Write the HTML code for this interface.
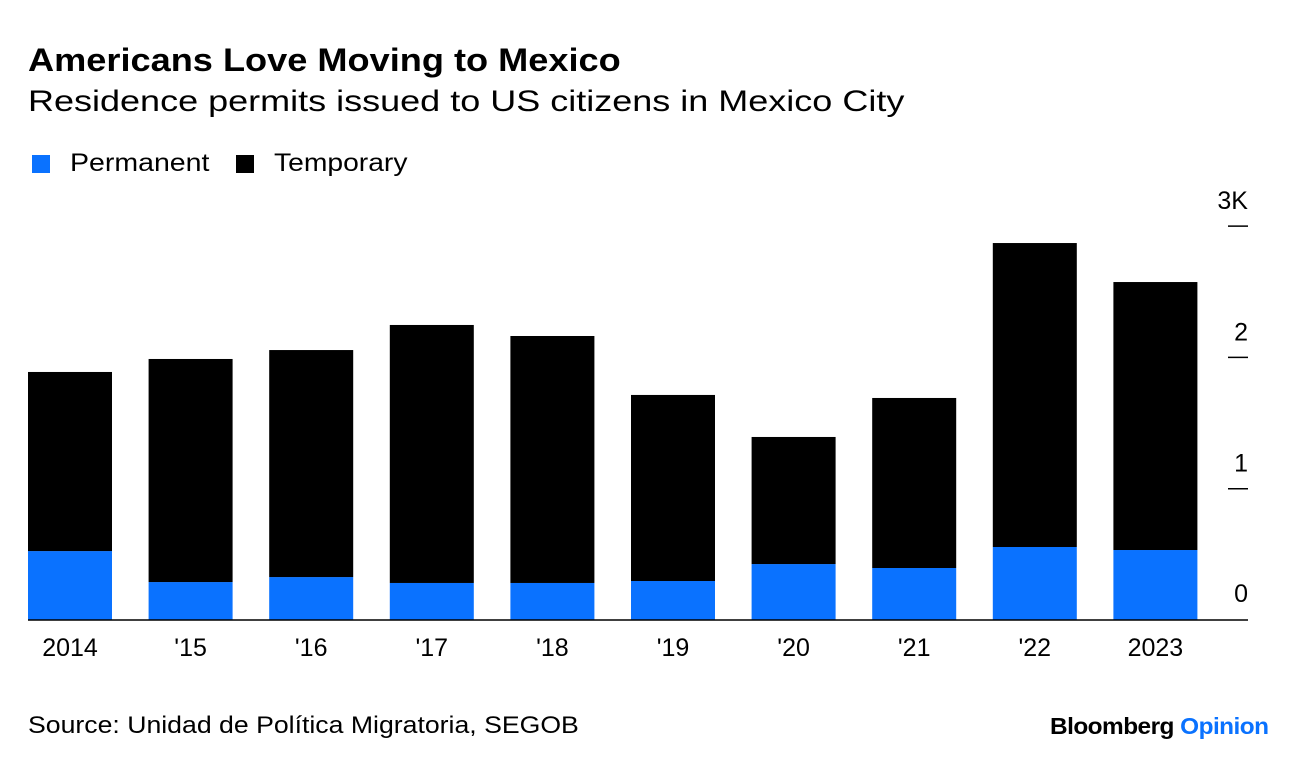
<!DOCTYPE html>
<html><head><meta charset="utf-8"><style>
body{margin:0;width:1296px;height:770px;background:#fff;font-family:"Liberation Sans",sans-serif;overflow:hidden;position:relative}
.t{position:absolute;white-space:nowrap;color:#000;transform-origin:0 0}
</style></head><body>
<div class="t" style="left:28px;top:42px;font-size:32px;font-weight:bold;transform:scaleX(1.13)">Americans Love Moving to Mexico</div>
<div class="t" style="left:28px;top:85px;font-size:30px;transform:scaleX(1.2)">Residence permits issued to US citizens in Mexico City</div>
<div style="position:absolute;left:32px;top:155px;width:18px;height:18px;background:#0a72ff"></div>
<div class="t" style="left:70px;top:149px;font-size:25px;transform:scaleX(1.14)">Permanent</div>
<div style="position:absolute;left:236px;top:155px;width:18px;height:18px;background:#000"></div>
<div class="t" style="left:274px;top:149px;font-size:25px;transform:scaleX(1.13)">Temporary</div>
<svg id="chart" width="1296" height="700" style="position:absolute;left:0;top:0"></svg>
<div class="t" style="left:28px;top:712px;font-size:24px;transform:scaleX(1.11)">Source: Unidad de Política Migratoria, SEGOB</div>
<div class="t" style="left:1050px;top:713px;font-size:23px;font-weight:bold;letter-spacing:-0.5px;transform:scaleX(1.06)">Bloomberg <span style="color:#0a72ff">Opinion</span></div>
<script>
const categories=["2014","'15","'16","'17","'18","'19","'20","'21","'22","2023"];
const permanent=[525,289,327,282,282,297,426,396,556,533];
const temporary=[1364,1699,1729,1965,1881,1417,968,1295,2315,2041];
const tickValues=[0,1000,2000,3000];
const tickLabels=["0","1","2","3K"];
const svg=document.getElementById('chart');
const NS='http://www.w3.org/2000/svg';
const y0=620,pxPer=131.3/1000;
const y=v=>y0-v*pxPer;
const x=i=>28+i*120.6;
const bw=84;
function mk(tag,attrs){const e=document.createElementNS(NS,tag);for(const k in attrs)e.setAttribute(k,attrs[k]);svg.appendChild(e);return e;}
categories.forEach((c,i)=>{
  const p=mk('rect',{x:x(i),y:y(permanent[i]),width:bw,height:y0-y(permanent[i]),fill:'#0a72ff'});
  
  
  const tot=permanent[i]+temporary[i];
  const t=mk('rect',{x:x(i),y:y(tot),width:bw,height:y(permanent[i])-y(tot),fill:'#000'});
  
  
  const l=mk('text',{x:x(i)+bw/2,y:656,'text-anchor':'middle','font-size':25,'font-family':'Liberation Sans, sans-serif'});
  l.textContent=c;
  
  
});
tickValues.forEach((v,i)=>{
  if(v>0){const tk=mk('line',{x1:1228,x2:1248,y1:y(v),y2:y(v),stroke:'#000','stroke-width':1.5});
  
  }
  const t=mk('text',{x:1248,y:y(v)-17,'text-anchor':'end','font-size':25,'font-family':'Liberation Sans, sans-serif'});
  if(v===0)t.setAttribute('y',y(v)-18);
  t.textContent=tickLabels[i];
  
  
});
const base=mk('line',{x1:28,x2:1248,y1:y0,y2:y0,stroke:'#000','stroke-width':1.5});


</script>
</body></html>
